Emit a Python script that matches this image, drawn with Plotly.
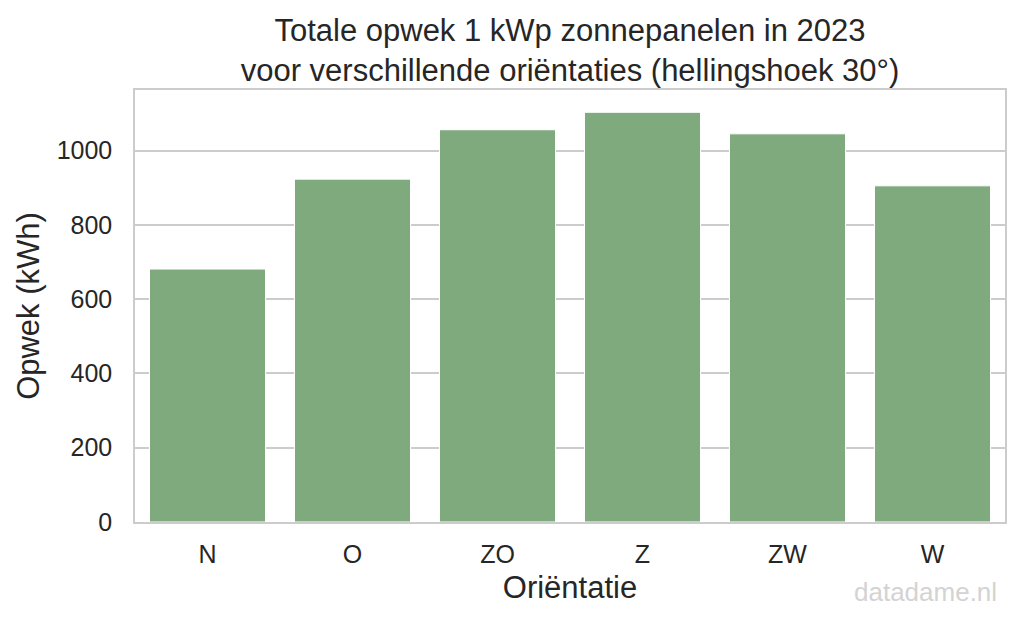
import plotly.graph_objects as go

orientaties = ["N", "O", "ZO", "Z", "ZW", "W"]
opwek = [681, 923, 1056, 1103, 1045, 905]
y_ticks = [0, 200, 400, 600, 800, 1000]

FONT = "Liberation Sans, Arial, sans-serif"
TXT = "#262626"
GRID = "#cccccc"

fig = go.Figure()
fig.add_trace(go.Bar(
    x=orientaties, y=opwek,
    marker=dict(color="#7eaa7d", line=dict(color="white", width=1)),
    hoverinfo="x+y",
))

fig.update_layout(
    width=1024, height=625,
    margin=dict(l=135, r=19, t=90, b=103),
    paper_bgcolor="white", plot_bgcolor="white",
    font=dict(family=FONT, color=TXT),
    bargap=0.2,
    showlegend=False,
    title=dict(
        text="Totale opwek 1 kWp zonnepanelen in 2023<br>voor verschillende oriëntaties (hellingshoek 30°)",
        x=0.5, xref="paper", xanchor="center",
        y=1 - 41 / 625, yref="container", yanchor="middle",
        font=dict(size=31, color=TXT, family=FONT),
    ),
    xaxis=dict(
        range=[-0.5, 5.5],
        showgrid=False,
        showline=True, linecolor=GRID, linewidth=1.5, mirror=True,
        ticks="", ticklabelstandoff=9,
        tickfont=dict(size=25, color=TXT),
        title=dict(text="Oriëntatie", font=dict(size=31, color=TXT), standoff=10),
    ),
    yaxis=dict(
        range=[0, 1163],
        tickvals=y_ticks,
        showgrid=True, gridcolor=GRID, gridwidth=1.5,
        zeroline=False,
        showline=True, linecolor=GRID, linewidth=1.5, mirror=True,
        ticks="", ticklabelstandoff=16,
        tickfont=dict(size=25, color=TXT),
        title=dict(text="Opwek (kWh)", font=dict(size=31, color=TXT), standoff=8),
    ),
    annotations=[dict(
        text="datadame.nl", xref="paper", yref="paper",
        x=(999 - 135) / 870, y=-(592 - 522) / 432,
        xanchor="right", yanchor="middle", showarrow=False,
        font=dict(size=26, color="#d3d3d3", family=FONT),
    )],
)

fig.write_html("out.html")
